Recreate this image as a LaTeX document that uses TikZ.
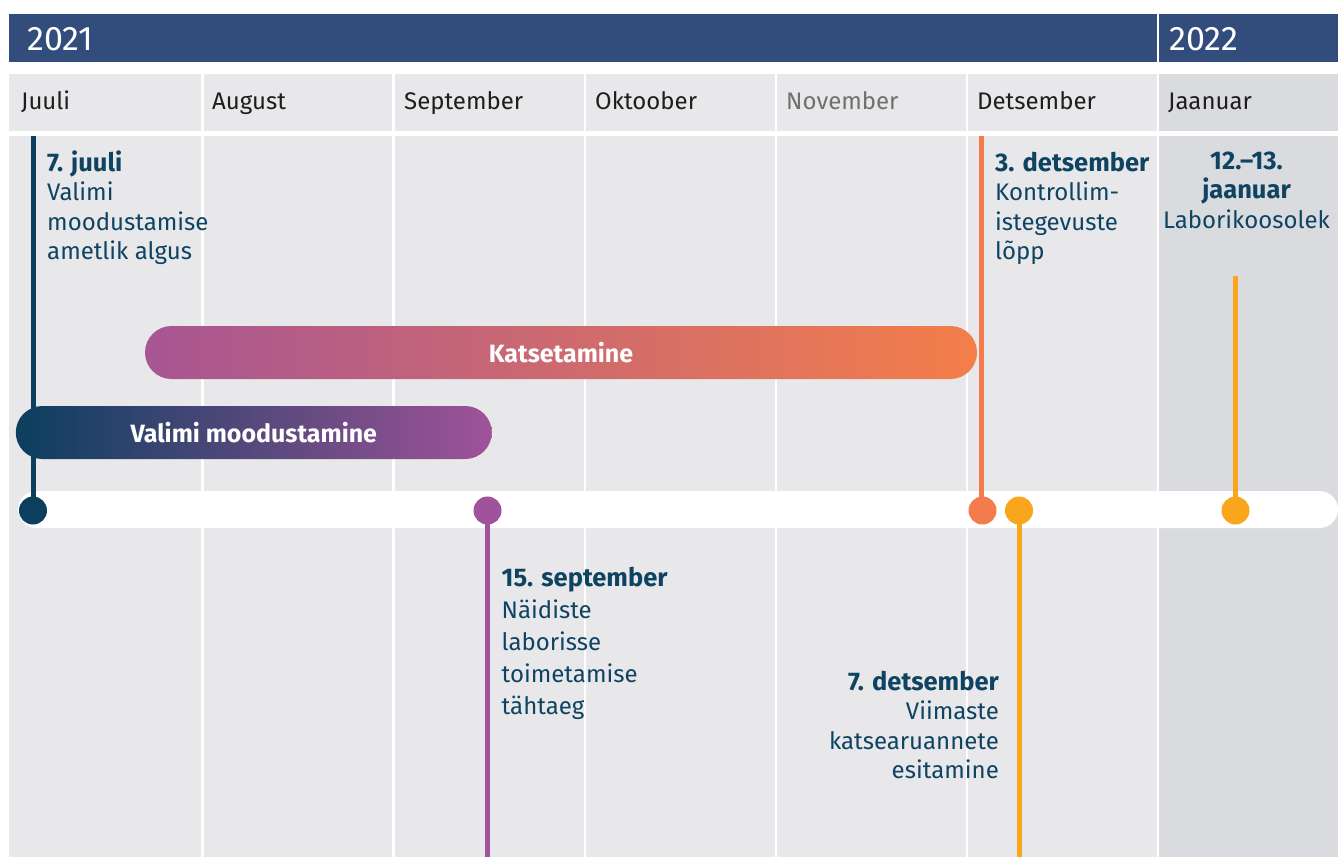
\documentclass[tikz,border=0pt]{standalone}
\usepackage{fontspec}
\setmainfont{Fira Sans}
\definecolor{hdr}{HTML}{324C7C}
\definecolor{cellbg}{HTML}{E8E8EB}
\definecolor{janbg}{HTML}{DADBDF}
\definecolor{navy}{HTML}{0B3F5E}
\definecolor{txtnavy}{HTML}{0E4462}
\definecolor{purp}{HTML}{A0529A}
\definecolor{orng}{HTML}{F47C4C}
\definecolor{yell}{HTML}{F9A61C}
\definecolor{monthtxt}{HTML}{1E1E1E}
\definecolor{greytxt}{HTML}{707070}
\newcommand{\evhead}[2]{{\bfseries\fontsize{25.5}{#1}\selectfont #2}}
\begin{document}
\begin{tikzpicture}[x=1pt,y=-1pt,
  yeartxt/.style={anchor=base west,inner sep=0pt,text=white,font=\fontsize{34}{38}\selectfont},
  monthtxt/.style={anchor=base west,inner sep=0pt,text=monthtxt,font=\fontsize{24}{28}\selectfont},
  evtxt/.style={inner sep=0pt,text=txtnavy,font=\fontsize{24}{29.5}\selectfont},
  bartxt/.style={inner sep=0pt,rounded corners=26.5pt,minimum height=53pt,text=white,font=\bfseries\fontsize{25}{28}\selectfont},
  dot/.style={circle,inner sep=0pt,minimum size=28pt},
  stem/.style={line width=5pt}]
\useasboundingbox[fill=white] (0,0) rectangle (1338,857);
% header
\fill[hdr] (9,14) rectangle (1338,62);
\fill[white] (1156.8,14) rectangle (1159.3,62);
\node[yeartxt] (y2021) at (27,50) {2021};
\node[yeartxt] (y2022) at (1169,50) {2022};
% month grid
\fill[cellbg] (9,74) rectangle (1159,857);
\fill[janbg] (1159,74) rectangle (1338,857);
\fill[white] (9,130.8) rectangle (1338,136);
\foreach \xx in {202.3,393.3,584.8,775.8,966.8,1158.1}
  \fill[white] (\xx-1.3,74) rectangle (\xx+1.3,857);
\node[monthtxt] (m1) at (21,109) {Juuli};
\node[monthtxt] (m2) at (212,109) {August};
\node[monthtxt] (m3) at (404,109) {September};
\node[monthtxt] (m4) at (595,109) {Oktoober};
\node[monthtxt,text=greytxt] (m5) at (786,109) {November};
\node[monthtxt] (m6) at (977,109) {Detsember};
\node[monthtxt] (m7) at (1168,109) {Jaanuar};
% timeline bar
\fill[white,rounded corners=18.5pt] (18,491) rectangle (1338,528);
% stems
\coordinate (t1) at (33,136);
\coordinate (t2) at (487.5,857);
\coordinate (t3) at (981.5,136);
\coordinate (t4) at (1019,857);
\coordinate (t5) at (1235.5,276);
\draw[stem,navy] (t1) -- (33,510);
\draw[stem,purp] (t2) -- (487.5,510);
\draw[stem,orng] (t3) -- (981.5,510);
\draw[stem,yell] (t4) -- (1019,510);
\draw[stem,yell] (t5) -- (1235.5,510);
% dots
\node[dot,fill=navy] (d1) at (33,510.5) {};
\node[dot,fill=purp] (d2) at (487.5,510.5) {};
\node[dot,fill=orng] (d3) at (982.5,510.5) {};
\node[dot,fill=yell] (d4) at (1019,510.5) {};
\node[dot,fill=yell] (d5) at (1235.5,510.5) {};
% bars
\node[bartxt,left color=purp!92!orng,right color=orng!95!yell,minimum width=832pt] (katse) at (561,352.5) {Katsetamine};
\node[bartxt,left color=navy,right color=purp,minimum width=476pt] (valimi) at (253.8,432.5) {Valimi moodustamine};
% event texts
\node[evtxt,anchor=north west,align=left] (e1) at (47,150.5) {\evhead{29.5}{7. juuli}\\Valimi\\moodustamise\\ametlik algus};
\node[evtxt,anchor=north west,align=left] (e3) at (995,151.5) {\evhead{29.5}{3. detsember}\\Kontrollim-\\istegevuste\\lõpp};
\node[evtxt,anchor=north,align=center] (e5) at (1246.5,151.5) {\evhead{29.5}{12.–13.}\\\evhead{29.5}{jaanuar}\\Laborikoosolek};
\node[evtxt,anchor=north west,align=left,font=\fontsize{24}{32}\selectfont] (e2) at (501.5,566.5) {\evhead{32}{15. september}\\Näidiste\\laborisse\\toimetamise\\tähtaeg};
\node[evtxt,anchor=north east,align=right] (e4) at (999,670.5) {\evhead{29.5}{7. detsember}\\Viimaste\\katsearuannete\\esitamine};
\end{tikzpicture}
\end{document}
